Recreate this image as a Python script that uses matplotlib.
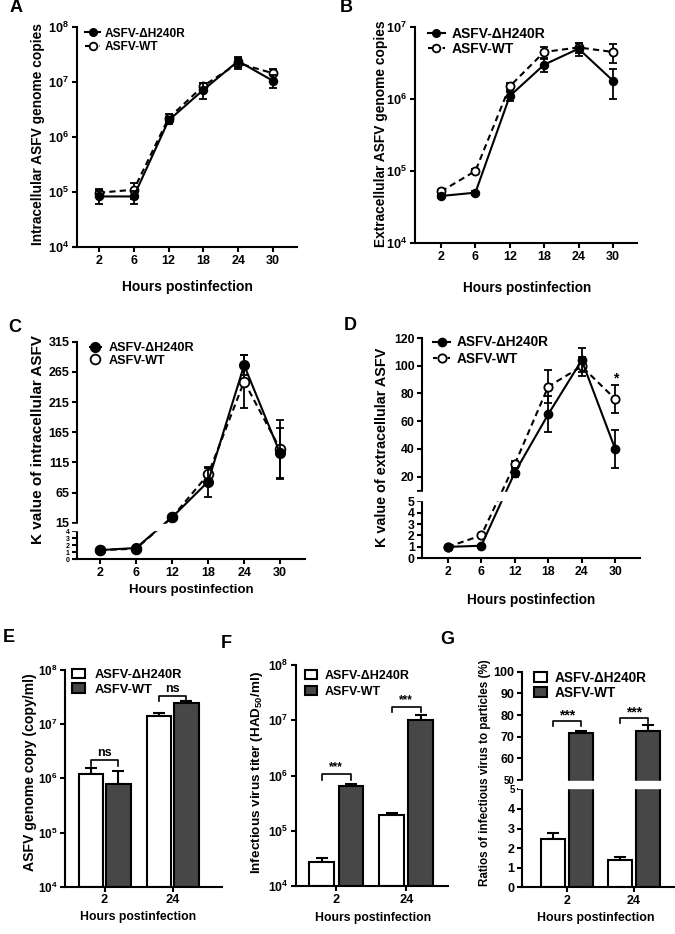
import numpy as np
import matplotlib
matplotlib.use("Agg")
import matplotlib.pyplot as plt
from matplotlib.ticker import FixedLocator, FuncFormatter, NullLocator
from matplotlib.lines import Line2D
from matplotlib.patches import Patch

plt.rcParams['font.family'] = ['Liberation Sans', 'DejaVu Sans']
plt.rcParams['font.weight'] = 'bold'
plt.rcParams['axes.labelweight'] = 'bold'
plt.rcParams['mathtext.fontset'] = 'custom'
plt.rcParams['mathtext.rm'] = 'Liberation Sans:bold'
plt.rcParams['mathtext.bf'] = 'Liberation Sans:bold'
plt.rcParams['mathtext.it'] = 'Liberation Sans:bold:italic'
plt.rcParams['mathtext.sf'] = 'Liberation Sans:bold'

# ---------------- data ----------------
labels = ['ASFV-ΔH240R', 'ASFV-WT']
hours = [2, 6, 12, 18, 24, 30]

A_mut = [8.3e4, 8.3e4, 2.0e6, 7.2e6, 2.4e7, 1.05e7]
A_mut_err = [2.2e4, 2.2e4, 3e5, 2.2e6, 5e6, 2.8e6]
A_wt = [9.7e4, 1.1e5, 2.2e6, 8.5e6, 2.2e7, 1.44e7]
A_wt_err = [1.5e4, 3.5e4, 4e5, 1.2e6, 5e6, 3e6]

B_mut = [4.5e4, 5.0e4, 1.1e6, 3.0e6, 5.0e6, 1.8e6]
B_mut_err = [3e3, 3e3, 1.5e5, 6e5, 1e6, 8e5]
B_wt = [5.2e4, 1.0e5, 1.5e6, 4.5e6, 5.2e6, 4.5e6]
B_wt_err = [3e3, 5e3, 1.5e5, 8e5, 8e5, 1.3e6]

C_mut = [1.3, 1.6, 24, 83, 276, 130]
C_mut_err = [0.1, 0.1, 2, 25, 17, 42]
C_wt = [1.3, 1.5, 24, 95, 249, 137]
C_wt_err = [0.1, 0.1, 2, 11, 44, 48]

D_mut = [1.0, 1.1, 23, 65, 104, 40]
D_mut_err = [0.05, 0.05, 3, 13, 8.5, 14]
D_wt = [1.0, 2.0, 29, 85, 99.5, 76]
D_wt_err = [0.05, 0.1, 2, 12, 7, 10]

bar_hours = [2, 24]
E_mut = [1.2e6, 1.4e7]
E_mut_err = [3.5e5, 2e6]
E_wt = [8.0e5, 2.5e7]
E_wt_err = [5.5e5, 2e6]

F_mut = [2.7e4, 1.9e5]
F_mut_err = [5e3, 1.6e4]
F_wt = [6.5e5, 1.0e7]
F_wt_err = [4e4, 2.4e6]

G_mut = [2.45, 1.4]
G_mut_err = [0.3, 0.17]
G_wt = [71.6, 72.5]
G_wt_err = [1.0, 3.0]

# significance annotations: (bracket y, leg y, text y, text)
E_sig = [(2.2e6, 1.7e6, 2.9e6, 'ns'), (3.3e7, 2.7e7, 4.5e7, 'ns')]
F_sig = [(1.06e6, 8.3e5, 1.4e6, '***'), (1.76e7, 1.43e7, 2.3e7, '***')]
G_sig = [(77.2, 74.8, 80.0, '***'), (78.5, 76.2, 81.2, '***')]

# ---------------- figure ----------------
W, H = 675, 934
fig = plt.figure(figsize=(W / 100, H / 100), dpi=100)


def add_ax(L, T, R, B):
    return fig.add_axes([L / W, 1 - B / H, (R - L) / W, (B - T) / H])


def style(ax, ts):
    for s in ['top', 'right']:
        ax.spines[s].set_visible(False)
    for s in ['left', 'bottom']:
        ax.spines[s].set_linewidth(1.5)
    ax.tick_params(direction='out', length=3.5, width=1.5, labelsize=ts, pad=2)


def ftext(x, y, s, size, rot=0):
    fig.text(x / W, 1 - y / H, s, fontsize=size, rotation=rot, ha='center',
             va='center', fontweight='bold')


def log_axis(ax, lo, hi, ts=9.2):
    ax.set_yscale('log')
    ax.set_ylim(10.0 ** lo, 10.0 ** hi)
    ax.yaxis.set_major_locator(FixedLocator([10.0 ** k for k in range(lo, hi + 1)]))
    ax.yaxis.set_minor_locator(NullLocator())
    ax.yaxis.set_major_formatter(FuncFormatter(
        lambda v, p: r'$\mathbf{10^{%d}}$' % int(round(np.log10(v)))))
    ax.tick_params(axis='y', labelsize=ts)


def break_axis(ax, xp, fp, ylim, ticks, ticklabels, gap, small=None, edge=None):
    xp = np.asarray(xp, float)
    fp = np.asarray(fp, float)
    fwd = lambda v: np.interp(v, xp, fp)
    inv = lambda v: np.interp(v, fp, xp)
    ax.set_yscale('function', functions=(fwd, inv))
    ax.set_ylim(*ylim)
    ax.yaxis.set_major_locator(FixedLocator(ticks))
    ax.yaxis.set_major_formatter(FuncFormatter(lambda v, p: ticklabels.get(v, '')))
    ax.yaxis.set_minor_locator(NullLocator())
    lo = inv(fwd(gap[0]) + 1.4)
    hi = inv(fwd(gap[1]) - 1.4)
    ax.axhspan(lo, hi, xmin=-0.03, xmax=1.0, color='white', zorder=6, clip_on=False)
    if small is not None or edge is not None:
        fig.canvas.draw()
        for t, v in zip(ax.get_yticklabels(), ticks):
            if small is not None and v <= gap[0]:
                t.set_fontsize(small)
            if edge is not None and v in gap:
                t.set_fontsize(edge)


def line_panel(ax, mut, mut_err, wt, wt_err, ms, xlim):
    x = np.arange(len(hours))
    ax.errorbar(x, wt, yerr=wt_err, color='k', lw=1.5, ls=(0, (3, 2)), marker='o',
                ms=ms, mfc='white', mec='k', mew=1.3, capsize=3, elinewidth=1.3,
                capthick=1.3, zorder=3)
    ax.errorbar(x, mut, yerr=mut_err, color='k', lw=1.5, ls='-', marker='o', ms=ms,
                mfc='k', mec='k', capsize=3, elinewidth=1.3, capthick=1.3, zorder=4)
    ax.set_xticks(x)
    ax.set_xticklabels([str(h) for h in hours])
    ax.set_xlim(*xlim)


def line_legend(ax, ms, fs, hx, y1, y2, hl, htp, ls):
    h1 = Line2D([], [], color='k', lw=1.5, marker='o', ms=ms, mfc='k', mec='k')
    h2 = Line2D([], [], color='k', lw=1.5, ls=(0, (2, 1.5)), marker='o', ms=ms,
                mfc='white', mec='k', mew=1.3)
    ax.legend([h1, h2], labels, loc='center left',
              bbox_to_anchor=(hx / W, 1 - (y1 + y2) / 2 / H),
              bbox_transform=fig.transFigure, frameon=False, fontsize=fs,
              handlelength=hl, handletextpad=htp, labelspacing=ls, borderpad=0,
              borderaxespad=0)


DARK = '#474747'


def bar_panel(ax, mut, mut_err, wt, wt_err, width, off, xlim):
    x = np.arange(len(bar_hours))
    base = ax.get_ylim()[0]
    n = len(x)
    ax.errorbar(x - off, mut, yerr=[np.zeros(n), mut_err], fmt='none', ecolor='k',
                elinewidth=1.5, capsize=4, capthick=1.5, zorder=1)
    ax.errorbar(x + off, wt, yerr=[np.zeros(n), wt_err], fmt='none', ecolor='k',
                elinewidth=1.5, capsize=4, capthick=1.5, zorder=1)
    ax.bar(x - off, np.asarray(mut) - base, bottom=base, width=width, color='white',
           edgecolor='k', linewidth=1.5, zorder=2)
    ax.bar(x + off, np.asarray(wt) - base, bottom=base, width=width, color=DARK,
           edgecolor='k', linewidth=1.5, zorder=2)
    ax.set_xticks(x)
    ax.set_xticklabels([str(h) for h in bar_hours])
    ax.set_xlim(*xlim)


def bar_legend(ax, fs, hx, y1, y2, hl, htp, ls):
    h1 = Patch(facecolor='white', edgecolor='k', linewidth=1.5)
    h2 = Patch(facecolor=DARK, edgecolor='k', linewidth=1.5)
    ax.legend([h1, h2], labels, loc='center left',
              bbox_to_anchor=(hx / W, 1 - (y1 + y2) / 2 / H),
              bbox_transform=fig.transFigure, frameon=False, fontsize=fs,
              handlelength=hl, handleheight=0.75, handletextpad=htp,
              labelspacing=ls, borderpad=0, borderaxespad=0)


def brackets(ax, sig, off, fs):
    for i, (by, ly, ty, txt) in enumerate(sig):
        ax.plot([i - off, i - off, i + off, i + off], [ly, by, by, ly], color='k',
                lw=1.2, zorder=5)
        ax.text(i, ty, txt, ha='center', va='center', fontsize=fs, zorder=5)


# ---- A ----
axA = add_ax(77, 27, 297, 247)
style(axA, 9)
log_axis(axA, 4, 8)
line_panel(axA, A_mut, A_mut_err, A_wt, A_wt_err, 5.8, (-0.63, 5.69))
line_legend(axA, 5.5, 8.6, 85, 33, 48, 1.26, 0.42, 0.15)
ftext(38, 134, 'Intracellular ASFV genome copies', 9.9, 90)
ftext(187, 287, 'Hours postinfection', 10)
ftext(16.5, 8, 'A', 13)

# ---- B ----
axB = add_ax(415, 27, 637, 243)
style(axB, 9)
log_axis(axB, 4, 7)
line_panel(axB, B_mut, B_mut_err, B_wt, B_wt_err, 5.8, (-0.756, 5.70))
line_legend(axB, 5.5, 10, 428, 33.3, 49.3, 1.22, 0.48, 0.1)
ftext(380.5, 134, 'Extracellular ASFV genome copies', 9.9, 90)
ftext(527.5, 288, 'Hours postinfection', 9.8)
ftext(346.5, 8, 'B', 13)

# ---- C ----
axC = add_ax(77, 341.7, 305, 559.3)
style(axC, 9)
break_axis(axC, [-100, 0, 4, 15, 315, 1000],
           [-707.5, 0, 28.3, 36.6, 217.6, 630.9], (0, 315),
           [0, 1, 2, 3, 4, 15, 65, 115, 165, 215, 265, 315],
           {0: '0', 1: '1', 2: '2', 3: '3', 4: '4', 15: '15', 65: '65', 115: '115',
            165: '165', 215: '215', 265: '265', 315: '315'}, (4, 15), small=5)
line_panel(axC, C_mut, C_mut_err, C_wt, C_wt_err, 7, (-0.64, 5.69))
line_legend(axC, 7, 9.1, 90, 347.7, 361, 0.85, 0.6, 0.05)
ftext(38, 440, 'K value of intracellular ASFV', 11, 90)
ftext(191, 590, 'Hours postinfection', 9.5)
ftext(15, 327.5, 'C', 13)

# ---- D ----
axD = add_ax(422.3, 338, 640, 558.3)
style(axD, 8.8)
break_axis(axD, [-100, 0, 5, 10, 120, 1000],
           [-1140, 0, 57, 67.6, 220, 1439.2], (0, 120),
           [0, 1, 2, 3, 4, 5, 10, 20, 40, 60, 80, 100, 120],
           {0: '0', 1: '1', 2: '2', 3: '3', 4: '4', 5: '5', 20: '20', 40: '40',
            60: '60', 80: '80', 100: '100', 120: '120'}, (5, 10))
line_panel(axD, D_mut, D_mut_err, D_wt, D_wt_err, 6, (-0.76, 5.74))
line_legend(axD, 6, 9.8, 433, 341.7, 360, 1.25, 0.49, 0.2)
axD.text(5, 91, '*', ha='center', va='center', fontsize=10)
ftext(381.7, 447.5, 'K value of extracellular ASFV', 10.4, 90)
ftext(531, 600, 'Hours postinfection', 9.8)
ftext(350, 326, 'D', 13)

# ---- E ----
axE = add_ax(65, 670, 221.7, 886.7)
style(axE, 9.2)
log_axis(axE, 4, 8, 8.5)
bar_panel(axE, E_mut, E_mut_err, E_wt, E_wt_err, 0.357, 0.203, (-0.58, 1.72))
brackets(axE, E_sig, 0.203, 9)
bar_legend(axE, 9.3, 71.7, 674.3, 690, 1.03, 0.78, 0.2)
ftext(30, 772.5, 'ASFV genome copy (copy/ml)', 10.1, 90)
ftext(138, 917, 'Hours postinfection', 8.8)
ftext(9, 638, 'E', 13)

# ---- F ----
axF = add_ax(296, 665, 448, 886)
style(axF, 9.2)
log_axis(axF, 4, 8, 8.8)
bar_panel(axF, F_mut, F_mut_err, F_wt, F_wt_err, 0.357, 0.21, (-0.576, 1.596))
brackets(axF, F_sig, 0.21, 8.5)
bar_legend(axF, 9, 305, 675, 693.3, 0.94, 0.66, 0.3)
ftext(256.7, 772.5, r'Infectious virus titer (HAD$_{\mathbf{50}}$/ml)', 9.7, 90)
ftext(373, 918, 'Hours postinfection', 8.8)
ftext(226, 643, 'F', 13)

# ---- G ----
axG = add_ax(522.3, 671.7, 675, 887.3)
style(axG, 9)
break_axis(axG, [-100, 0, 5, 50, 100, 1000],
           [-1960, 0, 98, 107.3, 215.6, 2165], (0, 100),
           [0, 1, 2, 3, 4, 5, 50, 60, 70, 80, 90, 100],
           {0: '0', 1: '1', 2: '2', 3: '3', 4: '4', 5: '5', 50: '50', 60: '60',
            70: '70', 80: '80', 90: '90', 100: '100'}, (5, 50), edge=7)
bar_panel(axG, G_mut, G_mut_err, G_wt, G_wt_err, 0.35, 0.21, (-0.666, 1.613))
brackets(axG, G_sig, 0.21, 10)
bar_legend(axG, 9.8, 534, 677.3, 693.3, 0.93, 0.61, 0.1)
ftext(485, 772.5, 'Ratios of infectious virus to particles (%)', 8.35, 90)
ftext(596, 918, 'Hours postinfection', 8.9)
ftext(447, 639, 'G', 13)

fig.savefig('out.png', dpi=100)
